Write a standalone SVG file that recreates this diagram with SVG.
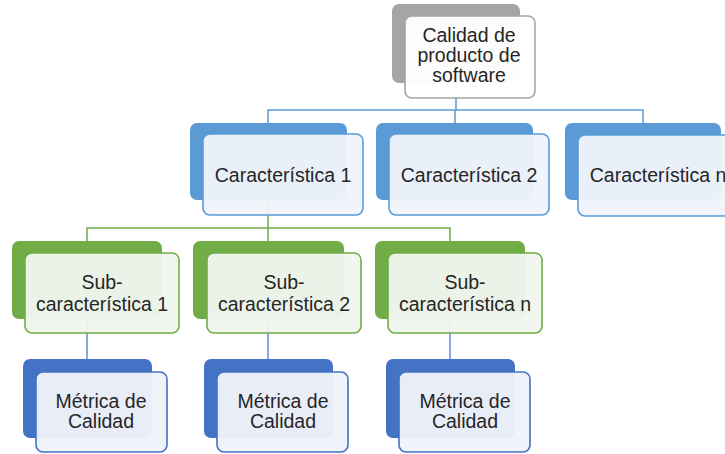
<svg xmlns="http://www.w3.org/2000/svg" width="725" height="454" viewBox="0 0 725 454">
<style>
text{font-family:"Liberation Sans",Arial,sans-serif;font-size:19.5px;fill:#262626;text-anchor:middle}
.bk{stroke:none}
.fr{stroke-width:1.6;fill-opacity:0.96}
.gray{fill:#A5A5A5}
.blue{fill:#5B9BD5}
.green{fill:#70AD47}
.dblue{fill:#4472C4}
.frgray{fill:#FFFFFF;stroke:#A5A5A5}
.frblue{fill:#F0F4FA;stroke:#5B9BD5}
.frgreen{fill:#F0F6EE;stroke:#70AD47}
.frdblue{fill:#EFF2FA;stroke:#4472C4}
.c{fill:none;stroke-width:1.5}
</style>
<rect width="725" height="454" fill="#FFFFFF"/>
<g id="connectors">
<path class="c" stroke="#5B9BD5" d="M456 82V110M268 123V110H643V123M455 110V123"/>
<path class="c" stroke="#70AD47" d="M268 200V228M87 241V228H450V241M268 228V241"/>
<path class="c" stroke="#5E8FD8" d="M87 319V359M268 319V359M450 319V359"/>
</g>
<g id="n0">
<rect class="bk gray" x="392" y="4" width="128" height="79" rx="7"/>
<rect class="fr frgray" x="405" y="16" width="130" height="82" rx="7"/>
<text x="469" y="42">Calidad de</text>
<text x="469" y="62">producto de</text>
<text x="469" y="82">software</text>
</g>
<g id="n1">
<rect class="bk blue" x="190" y="123" width="157" height="77" rx="7"/>
<rect class="fr frblue" x="203" y="134" width="160" height="81" rx="7"/>
<text x="283" y="182">Característica 1</text>
</g>
<g id="n2">
<rect class="bk blue" x="376" y="123" width="157" height="77" rx="7"/>
<rect class="fr frblue" x="389" y="134" width="160" height="81" rx="7"/>
<text x="469" y="182">Característica 2</text>
</g>
<g id="n3">
<rect class="bk blue" x="565" y="123" width="156" height="77" rx="7"/>
<rect class="fr frblue" x="578" y="135" width="160" height="81" rx="7"/>
<text x="658" y="182">Característica n</text>
</g>
<g id="n4">
<rect class="bk green" x="12" y="241" width="150" height="78" rx="7"/>
<rect class="fr frgreen" x="25" y="253" width="154" height="80" rx="7"/>
<text x="102" y="289">Sub-</text>
<text x="102" y="311">característica 1</text>
</g>
<g id="n5">
<rect class="bk green" x="193" y="241" width="151" height="78" rx="7"/>
<rect class="fr frgreen" x="207" y="253" width="154" height="80" rx="7"/>
<text x="284" y="289">Sub-</text>
<text x="284" y="311">característica 2</text>
</g>
<g id="n6">
<rect class="bk green" x="375" y="241" width="150" height="78" rx="7"/>
<rect class="fr frgreen" x="388" y="253" width="154" height="80" rx="7"/>
<text x="465" y="289">Sub-</text>
<text x="465" y="311">característica n</text>
</g>
<g id="n7">
<rect class="bk dblue" x="23" y="359" width="129" height="79" rx="7"/>
<rect class="fr frdblue" x="36" y="372" width="131" height="80" rx="7"/>
<text x="101" y="408">Métrica de</text>
<text x="101" y="428">Calidad</text>
</g>
<g id="n8">
<rect class="bk dblue" x="204" y="359" width="129" height="79" rx="7"/>
<rect class="fr frdblue" x="217" y="372" width="131" height="80" rx="7"/>
<text x="283" y="408">Métrica de</text>
<text x="283" y="428">Calidad</text>
</g>
<g id="n9">
<rect class="bk dblue" x="386" y="359" width="129" height="79" rx="7"/>
<rect class="fr frdblue" x="399" y="372" width="131" height="80" rx="7"/>
<text x="465" y="408">Métrica de</text>
<text x="465" y="428">Calidad</text>
</g>
</svg>
